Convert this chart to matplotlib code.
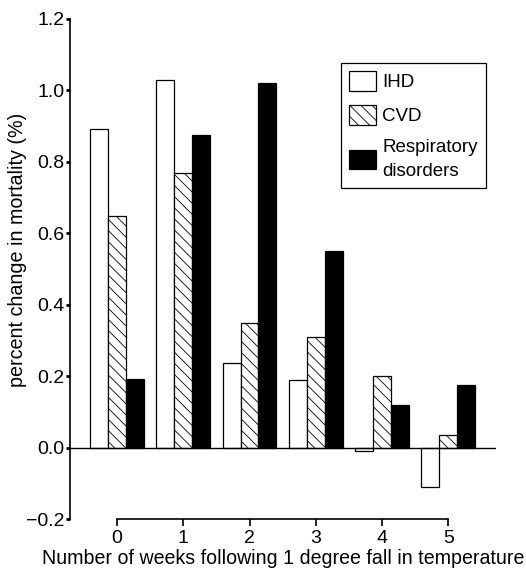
import matplotlib.pyplot as plt
import numpy as np

plt.rcParams['font.family'] = ['Liberation Sans', 'DejaVu Sans']
plt.rcParams['hatch.linewidth'] = 0.6

weeks = [0, 1, 2, 3, 4, 5]
ihd = [0.893, 1.030, 0.237, 0.189, -0.009, -0.109]
cvd = [0.649, 0.768, 0.349, 0.310, 0.200, 0.036]
resp = [0.193, 0.875, 1.020, 0.551, 0.121, 0.176]
labels = ['IHD', 'CVD', 'Respiratory\ndisorders']

fig = plt.figure(figsize=(5.26, 5.75), dpi=100)
ax = fig.add_axes([0.133, 0.097, 0.81, 0.87])

x = np.array(weeks)
w = 0.27
ax.bar(x - w, ihd, w, color='white', edgecolor='black', linewidth=0.9, label=labels[0])
ax.bar(x, cvd, w, color='white', edgecolor='black', linewidth=0.9, hatch='\\\\\\', label=labels[1])
ax.bar(x + w, resp, w, color='black', edgecolor='black', linewidth=0.9, label=labels[2])

ax.axhline(0, color='black', linewidth=1.0)

ax.set_xlim(-0.71, 5.72)
ax.set_ylim(-0.2, 1.2)
ax.set_yticks(np.arange(-0.2, 1.21, 0.2))
ax.set_yticklabels(['\u22120.2', '0.0', '0.2', '0.4', '0.6', '0.8', '1.0', '1.2'])
ax.set_xticks(weeks)

for s in ['top', 'right']:
    ax.spines[s].set_visible(False)
ax.spines['bottom'].set_bounds(0, 5)
ax.spines['left'].set_bounds(-0.2, 1.2)
ax.spines['left'].set_linewidth(1.2)
ax.spines['bottom'].set_linewidth(1.2)
ax.tick_params(axis='y', length=3, width=2, labelsize=14, pad=1)
ax.tick_params(axis='x', length=5, width=1.2, labelsize=14, pad=3)

ax.set_ylabel('percent change in mortality (%)', fontsize=14.2)
ax.yaxis.set_label_coords(-0.101, 0.538)
ax.set_xlabel('Number of weeks following 1 degree fall in temperature', fontsize=14.1, labelpad=1)

leg = ax.legend(loc='upper right', bbox_to_anchor=(0.977, 0.912), fontsize=13.5,
                fancybox=False, edgecolor='black', framealpha=1,
                handlelength=1.4, handleheight=1.2, handletextpad=0.35,
                labelspacing=0.75, borderpad=0.45, borderaxespad=0)
leg.get_frame().set_linewidth(0.9)
for t in leg.get_texts():
    t.set_linespacing(1.5)

fig.savefig('out.png', dpi=100)
